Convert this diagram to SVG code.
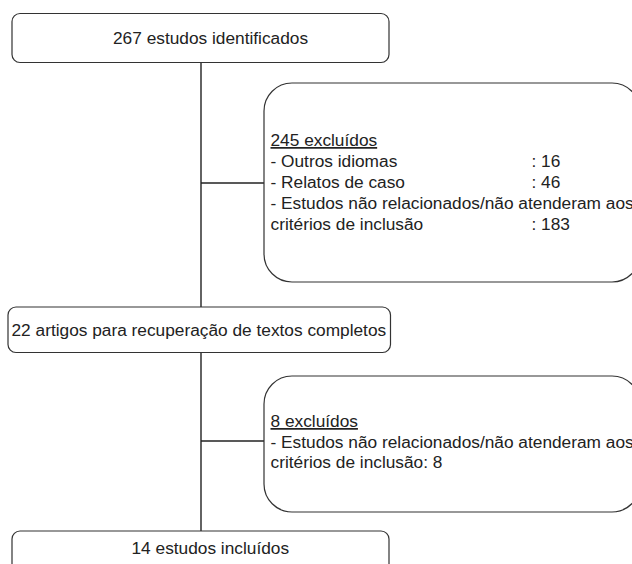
<svg xmlns="http://www.w3.org/2000/svg" width="632" height="564" viewBox="0 0 632 564">
<style>
.box{fill:#fff;stroke:#333;stroke-width:1.2}
.t{font-family:"Liberation Sans",Arial,sans-serif;font-size:17.3px;fill:#222}
.u{text-decoration:underline}
.c{stroke:#222;stroke-width:1.4;fill:none}
</style>
<rect width="632" height="564" fill="#fff"/>
<g id="connectors">
<line class="c" x1="201" y1="62.5" x2="201" y2="307"/>
<line class="c" x1="201" y1="183" x2="264" y2="183"/>
<line class="c" x1="201" y1="352.5" x2="201" y2="531"/>
<line class="c" x1="201" y1="441" x2="264" y2="441"/>
</g>
<g id="n1">
<rect class="box" x="12" y="13.5" width="377" height="49" rx="8"/>
<text class="t" x="113" y="43.5">267 estudos identificados</text>
</g>
<g id="n2">
<rect class="box" x="264" y="83" width="376" height="199" rx="28"/>
<text class="t u" x="270.5" y="146">245 excluídos</text>
<text class="t" x="270.5" y="167">- Outros idiomas</text>
<text class="t" x="531.5" y="167">: 16</text>
<text class="t" x="270.5" y="188">- Relatos de caso</text>
<text class="t" x="531.5" y="188">: 46</text>
<text class="t" x="270.5" y="209">- Estudos não relacionados/não atenderam aos</text>
<text class="t" x="270.5" y="229.5">critérios de inclusão</text>
<text class="t" x="531.5" y="229.5">: 183</text>
</g>
<g id="n3">
<rect class="box" x="8" y="307" width="382.5" height="45.5" rx="8"/>
<text class="t" x="11.5" y="335.5">22 artigos para recuperação de textos completos</text>
</g>
<g id="n4">
<rect class="box" x="264" y="376" width="376" height="136" rx="28"/>
<text class="t u" x="270.5" y="427">8 excluídos</text>
<text class="t" x="270.5" y="447.5">- Estudos não relacionados/não atenderam aos</text>
<text class="t" x="270.5" y="468">critérios de inclusão: 8</text>
</g>
<g id="n5">
<rect class="box" x="12" y="531" width="377" height="49" rx="8"/>
<text class="t" x="131.5" y="553.5">14 estudos incluídos</text>
</g>
</svg>
